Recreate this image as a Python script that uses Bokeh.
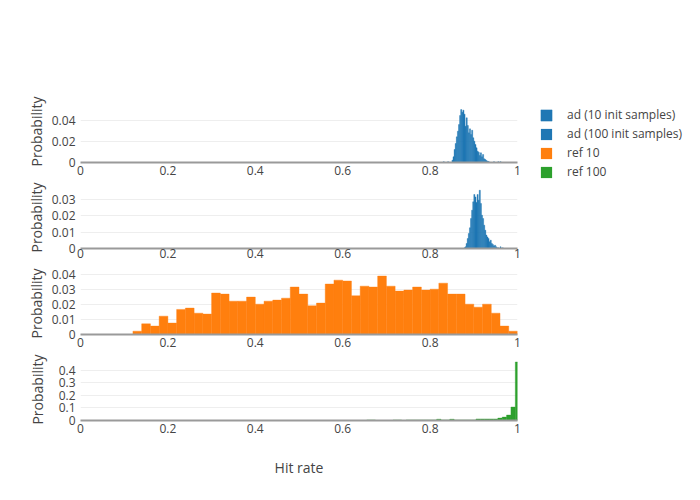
from bokeh.plotting import figure
from bokeh.layouts import column
from bokeh.models import FixedTicker, Legend, LegendItem
from bokeh.embed import file_html
from bokeh.resources import INLINE

# ---------------- data ----------------
# ad (10 init samples): histogram, bin width 0.0025, first bin starts at 0.83
ad10_start = 0.83
ad10_bin = 0.0025
ad10_prob = [0.0008, 0, 0, 0, 0.0008, 0, 0, 0,
             0.0022, 0.0054, 0.0124, 0.0181, 0.0244, 0.0298, 0.0361, 0.0447,
             0.0504, 0.0479, 0.0498, 0.0460, 0.0346, 0.0425, 0.0352, 0.0282,
             0.0320, 0.0266, 0.0307, 0.0235, 0.0203, 0.0171, 0.0140, 0.0108,
             0.0098, 0.0067, 0.0092, 0.0054, 0.0076, 0.0035, 0.0029, 0.0019,
             0.0013, 0.0010, 0.0003, 0, 0, 0, 0.0008, 0, 0, 0, 0.0008, 0, 0.0008]

# ad (100 init samples): bin width 0.0025, first bin starts at 0.8775
ad100_start = 0.8775
ad100_bin = 0.0025
ad100_prob = [0.0004, 0.0010, 0.0031, 0.0061, 0.0092, 0.0127, 0.0184, 0.0235,
              0.0286, 0.0331, 0.0316, 0.0282, 0.0331, 0.0296, 0.0357, 0.0276,
              0.0204, 0.0184, 0.0143, 0.0112, 0.0082, 0.0071, 0.0061, 0.0041,
              0.0051, 0.0031, 0.0024, 0.0016, 0.0020, 0.0010, 0.0004, 0.0004,
              0, 0.0010, 0, 0.0004]

# ref 10: bin width 0.02, first bin starts at 0.12
ref10_start = 0.12
ref10_bin = 0.02
ref10_prob = [0.0022, 0.0071, 0.0056, 0.0122, 0.0076, 0.0167, 0.0176, 0.0142,
              0.0136, 0.0276, 0.0269, 0.0222, 0.0222, 0.0249, 0.0202, 0.0222,
              0.0229, 0.0242, 0.0316, 0.0269, 0.0191, 0.0209, 0.0336, 0.0362,
              0.0356, 0.0258, 0.0322, 0.0316, 0.0389, 0.0322, 0.0289, 0.0296,
              0.0316, 0.0296, 0.0302, 0.0342, 0.0269, 0.0269, 0.0202, 0.0182,
              0.0202, 0.0142, 0.0056, 0.0022]

# ref 100: bin width 0.01, bins centred on 0.66 ... 1.00
ref100_start = 0.655
ref100_bin = 0.01
ref100_prob = [0.004, 0.004, 0, 0, 0, 0, 0.004, 0.004, 0, 0.004,
               0.004, 0.004, 0.004, 0.004, 0.004, 0.004, 0.010, 0.004, 0.004, 0.010,
               0.004, 0.004, 0.004, 0.004, 0.004, 0.012, 0.012, 0.012, 0.012, 0.012,
               0.019, 0.027, 0.043, 0.107, 0.467]

x_ticks = [0, 0.2, 0.4, 0.6, 0.8, 1]
series_names = ["ad (10 init samples)", "ad (100 init samples)", "ref 10", "ref 100"]
colors = ["#1f77b4", "#1f77b4", "#ff7f0e", "#2ca02c"]

FONT = "Open Sans"
TXT = "#444444"


def edges(start, width, probs):
    left = [start + i * width for i in range(len(probs))]
    right = [l + width for l in left]
    return left, right


def make_fig(ymax, yticks, top_border, bottom_border, right_border, label_standoff, x_standoff):
    p = figure(frame_width=437, frame_height=62, x_range=(0, 1), y_range=(0, ymax),
               output_backend="svg", toolbar_location=None, title=None,
               min_border_left=80, min_border_top=top_border,
               min_border_bottom=bottom_border, min_border_right=right_border)
    p.outline_line_color = None
    p.xgrid.grid_line_color = None
    p.ygrid.grid_line_color = "#eeeeee"
    p.ygrid.grid_line_width = 1
    p.background_fill_color = "white"
    p.border_fill_color = "white"

    xa = p.xaxis[0]
    xa.ticker = FixedTicker(ticks=x_ticks)
    xa.major_label_overrides = {0: "0", 1: "1"}
    xa.axis_line_color = "#9a9a9a"
    xa.axis_line_width = 2
    xa.major_tick_line_color = None
    xa.minor_tick_line_color = None
    xa.major_tick_out = 0
    xa.major_tick_in = 0
    xa.major_label_standoff = x_standoff
    xa.major_label_text_font = FONT
    xa.major_label_text_font_size = "12px"
    xa.major_label_text_color = TXT

    ya = p.yaxis[0]
    ya.ticker = FixedTicker(ticks=yticks)
    ya.major_label_overrides = {0: "0"}
    ya.axis_line_color = None
    ya.major_tick_line_color = None
    ya.minor_tick_line_color = None
    ya.major_tick_out = 0
    ya.major_tick_in = 0
    ya.major_label_standoff = 5
    ya.major_label_text_font = FONT
    ya.major_label_text_font_size = "12px"
    ya.major_label_text_color = TXT
    ya.axis_label = "Probability"
    ya.axis_label_text_font = FONT
    ya.axis_label_text_font_size = "14px"
    ya.axis_label_text_font_style = "normal"
    ya.axis_label_text_color = TXT
    ya.axis_label_standoff = label_standoff
    return p


p1 = make_fig(0.059, [0, 0.02, 0.04], 100, 20, 175, 3, 3)
p2 = make_fig(0.038, [0, 0.01, 0.02, 0.03], 4, 17, 5, 3, 0)
p3 = make_fig(0.0413, [0, 0.01, 0.02, 0.03, 0.04], 7, 20, 5, 3, 3)
p4 = make_fig(0.495, [0, 0.1, 0.2, 0.3, 0.4], 4, 62, 5, 9, 3)

l, r = edges(ad10_start, ad10_bin, ad10_prob)
r1 = p1.quad(left=l, right=r, bottom=0, top=ad10_prob, fill_color=colors[0],
             line_color=colors[0], line_width=0.4)
l, r = edges(ad100_start, ad100_bin, ad100_prob)
p2.quad(left=l, right=r, bottom=0, top=ad100_prob, fill_color=colors[1],
        line_color=colors[1], line_width=0.4)
l, r = edges(ref10_start, ref10_bin, ref10_prob)
p3.quad(left=l, right=r, bottom=0, top=ref10_prob, fill_color=colors[2],
        line_color=colors[2], line_width=0.4)
l, r = edges(ref100_start, ref100_bin, ref100_prob)
p4.quad(left=l, right=r, bottom=0, top=ref100_prob, fill_color=colors[3],
        line_color=colors[3], line_width=0.4)

xa4 = p4.xaxis[0]
xa4.axis_label = "Hit rate"
xa4.axis_label_text_font = FONT
xa4.axis_label_text_font_size = "14px"
xa4.axis_label_text_font_style = "normal"
xa4.axis_label_text_color = TXT
xa4.axis_label_standoff = 22

# legend entries (legend shown once, beside the top panel); hidden copies of
# the other series in the top panel supply the legend swatches
legend_renderers = [r1]
for (start, width, probs), c in zip([(ad100_start, ad100_bin, ad100_prob),
                                     (ref10_start, ref10_bin, ref10_prob),
                                     (ref100_start, ref100_bin, ref100_prob)], colors[1:]):
    l, r = edges(start, width, probs)
    legend_renderers.append(p1.quad(left=l, right=r, bottom=0, top=probs,
                                    fill_color=c, line_color=None, visible=False))
items = [LegendItem(label=n, renderers=[rr]) for n, rr in zip(series_names, legend_renderers)]
legend = Legend(items=items, location=(22, -18), orientation="vertical",
                glyph_width=14, glyph_height=14, label_height=14, label_width=10,
                spacing=2, padding=5, margin=0, label_standoff=14,
                label_text_font=FONT, label_text_font_size="12px", label_text_color=TXT,
                label_text_baseline="middle",
                inactive_fill_alpha=0,
                border_line_color=None, background_fill_alpha=0)
p1.add_layout(legend, "right")

layout = column(p1, p2, p3, p4, spacing=0)
open("out.html", "w").write(file_html(layout, INLINE))
